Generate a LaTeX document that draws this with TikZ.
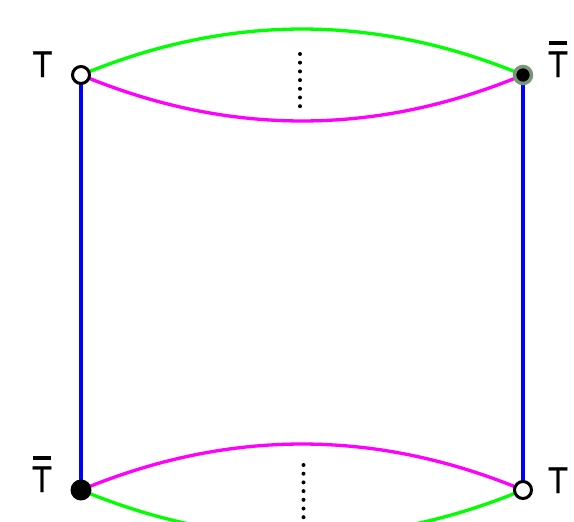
\documentclass[tikz,border=0pt]{standalone}
\usepackage{fontspec}
\setmainfont{DejaVu Sans}
\newfontfamily\lblfont[FakeStretch=0.85,FakeBold=0.8]{DejaVu Sans}
\definecolor{lgreen}{RGB}{0,255,0}
\definecolor{lmag}{RGB}{255,0,255}
\definecolor{lblue}{RGB}{0,0,255}
\definecolor{ringcol}{RGB}{120,150,120}
\newcommand\barT{\vbox{\hrule height 4pt\kern6pt\hbox{T}}}
\begin{document}
\begin{tikzpicture}[x=1pt,y=-1pt,
  edgeline/.style={line width=3.3pt},
  opendot/.style={circle,draw=black,fill=white,line width=3pt,minimum size=17pt,inner sep=0pt},
  fulldot/.style={circle,fill=black,minimum size=21pt,inner sep=0pt},
  ringdot/.style={circle,draw=ringcol,fill=black,line width=3.5pt,minimum size=17pt,inner sep=0pt},
  lbl/.style={font=\lblfont\fontsize{35}{35}\selectfont,inner sep=0pt,anchor=base},
  dotcol/.style={fill=black,circle,inner sep=0pt,minimum size=4pt}]
\useasboundingbox (0,0) rectangle (574,522);
\clip (0,0) rectangle (574,522);
\coordinate (tl) at (81,75);
\coordinate (tr) at (523,75);
\coordinate (bl) at (81,490);
\coordinate (br) at (523,490);
% blue sides
\draw[edgeline,lblue] (tl) -- (bl);
\draw[edgeline,lblue] (tr) -- (br);
% top arcs
\draw[edgeline,lgreen] (tl) .. controls (228.3,13.7) and (375.7,13.7) .. (tr);
\draw[edgeline,lmag] (tl) .. controls (228.3,136.3) and (375.7,136.3) .. (tr);
% bottom arcs
\draw[edgeline,lmag] (bl) .. controls (228.3,428.7) and (375.7,428.7) .. (br);
\draw[edgeline,lgreen] (bl) .. controls (228.3,551.3) and (375.7,551.3) .. (br);
% dots
\foreach \i in {0,...,6} {
  \node[dotcol] (dt\i) at (300,54+8.7*\i) {};
  \node[dotcol] (db\i) at (303.5,465+8.7*\i) {};
}
% vertices
\node[opendot] (ntl) at (tl) {};
\node[ringdot] (ntr) at (tr) {};
\node[fulldot] (nbl) at (bl) {};
\node[opendot] (nbr) at (br) {};
% labels
\node[lbl] (ltl) at (42.5,77) {T};
\node[lbl] (ltr) at (558,77) {\barT};
\node[lbl] (lbl) at (42,492) {\barT};
\node[lbl] (lbr) at (558,493) {T};
\end{tikzpicture}
\end{document}
